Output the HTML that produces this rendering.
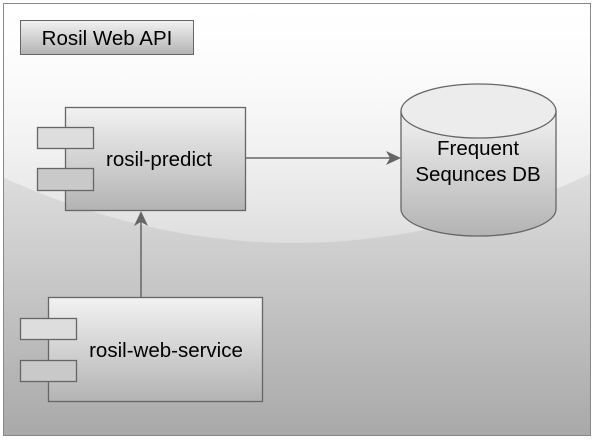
<!DOCTYPE html>
<html><head><style>body{margin:0;background:#fff}</style></head><body>
<svg width="593" height="440" xmlns="http://www.w3.org/2000/svg" font-family="Liberation Sans, sans-serif">
<defs>
<linearGradient id="bg" x1="0" y1="0" x2="0" y2="1"><stop offset="0" stop-color="#ffffff"/><stop offset="1" stop-color="#a9a9a9"/></linearGradient>
<linearGradient id="g" x1="0" y1="0" x2="0" y2="1"><stop offset="0" stop-color="#f2f2f2"/><stop offset="1" stop-color="#b3b3b3"/></linearGradient>
<linearGradient id="sh" x1="0" y1="0" x2="0" y2="1"><stop offset="0" stop-color="#fff" stop-opacity="0.85"/><stop offset="1" stop-color="#fff" stop-opacity="0.3"/></linearGradient>
</defs>
<rect x="3.5" y="3.5" width="587" height="432" fill="url(#bg)" stroke="#888" stroke-width="1"/>
<path d="M4,4 H590 V174 Q300,310 4,178 Z" fill="url(#sh)"/>
<rect x="20.5" y="20.5" width="173" height="34" fill="url(#g)" stroke="#666"/>
<text x="107" y="45" font-size="20.5" text-anchor="middle">Rosil Web API</text>
<rect x="65.5" y="107.5" width="180" height="103" fill="url(#g)" stroke="#666" stroke-width="1.3"/>
<rect x="37.5" y="127.5" width="56" height="21" fill="#ddd" stroke="#666" stroke-width="1.3"/>
<rect x="37.5" y="168.5" width="56" height="22" fill="#c9c9c9" stroke="#666" stroke-width="1.3"/>
<text x="159" y="166" font-size="20.5" text-anchor="middle">rosil-predict</text>
<rect x="48.5" y="297.5" width="214" height="104" fill="url(#g)" stroke="#666" stroke-width="1.3"/>
<rect x="20.5" y="318.5" width="56" height="21" fill="#ddd" stroke="#666" stroke-width="1.3"/>
<rect x="20.5" y="360.5" width="56" height="21" fill="#c9c9c9" stroke="#666" stroke-width="1.3"/>
<text x="166" y="357" font-size="20.5" text-anchor="middle">rosil-web-service</text>
<path d="M401,111 V209 A77.5,27 0 0 0 556,209 V111" fill="url(#g)" stroke="#666" stroke-width="1.3"/>
<ellipse cx="478.5" cy="111" rx="77.5" ry="27" fill="#ececec" stroke="#666" stroke-width="1.3"/>
<text x="478" y="155" font-size="20.5" text-anchor="middle">Frequent</text>
<text x="478" y="181" font-size="20.5" text-anchor="middle">Sequnces DB</text>
<line x1="245" y1="158" x2="392" y2="158" stroke="#666" stroke-width="1.5"/>
<path d="M401,158 L386,151 L390,158 L386,165 Z" fill="#666"/>
<line x1="141" y1="297" x2="141" y2="220" stroke="#666" stroke-width="1.5"/>
<path d="M141,211 L134,226 L141,222 L148,226 Z" fill="#666"/>
</svg>
</body></html>
